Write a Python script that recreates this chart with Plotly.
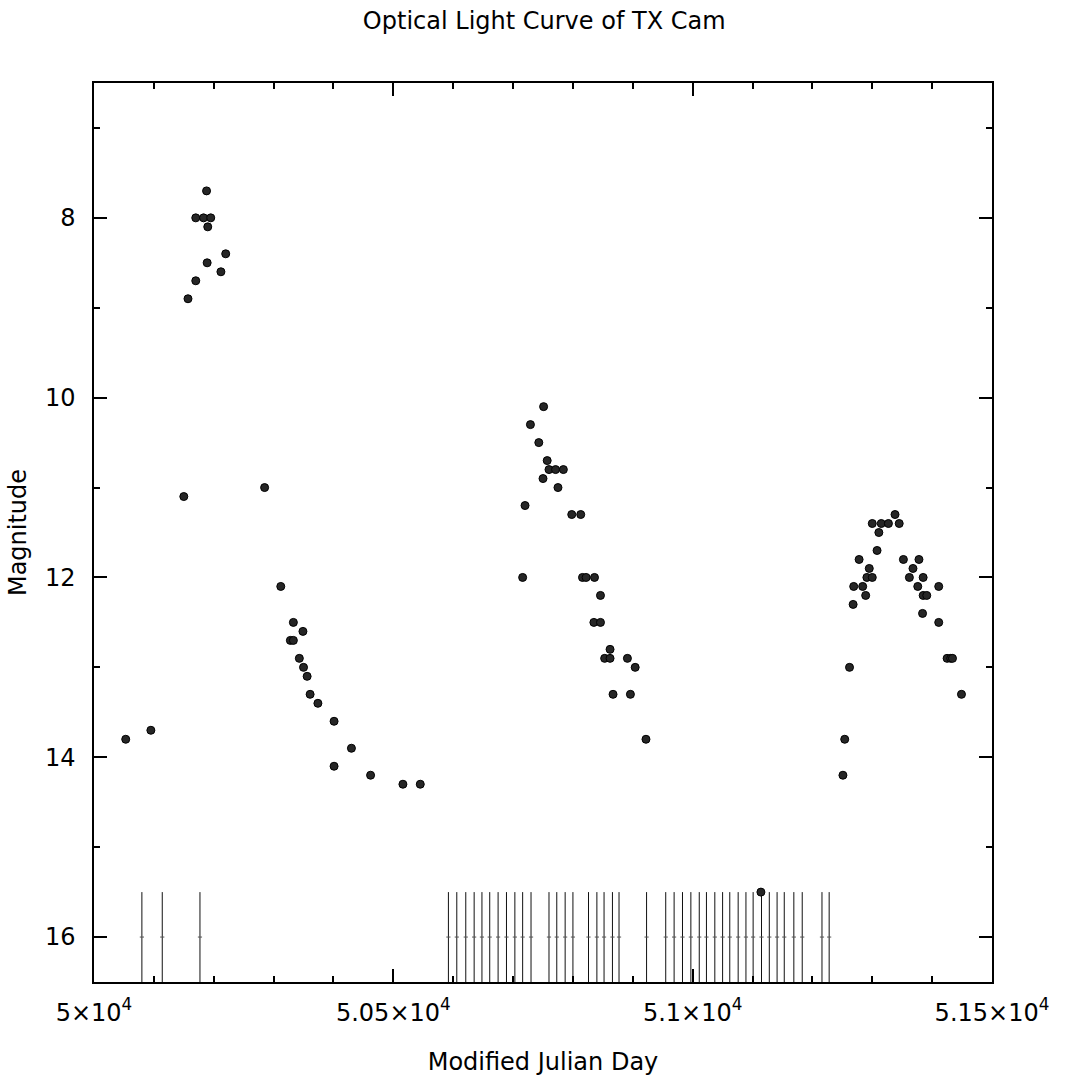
import plotly.graph_objects as go

# Optical photometry of TX Cam (MJD, visual magnitude)
mjd = [
    50053, 50095, 50150, 50157, 50170, 50170, 50183, 50188, 50189, 50190,
    50195, 50212, 50220, 50285, 50312, 50328, 50333, 50333, 50343, 50349,
    50350, 50356, 50361, 50374, 50401, 50401, 50430, 50462, 50516, 50545,
    50716, 50720, 50729, 50743, 50750, 50751, 50757, 50760, 50771, 50775,
    50784, 50798, 50813, 50816, 50822, 50835, 50836, 50846, 50846, 50853,
    50862, 50862, 50867, 50891, 50896, 50904, 50922,
    51114,
    51251, 51254, 51262, 51268, 51269, 51278, 51284, 51289, 51291, 51295,
    51300, 51300, 51308, 51311, 51315, 51327, 51338, 51345, 51352, 51362,
    51368, 51376, 51378, 51384, 51385, 51385, 51391, 51411, 51411, 51425,
    51431, 51434, 51449,
]
mag = [
    13.8, 13.7, 11.1, 8.9, 8.7, 8.0, 8.0, 7.7, 8.5, 8.1,
    8.0, 8.6, 8.4, 11.0, 12.1, 12.7, 12.7, 12.5, 12.9, 12.6,
    13.0, 13.1, 13.3, 13.4, 13.6, 14.1, 13.9, 14.2, 14.3, 14.3,
    12.0, 11.2, 10.3, 10.5, 10.9, 10.1, 10.7, 10.8, 10.8, 11.0,
    10.8, 11.3, 11.3, 12.0, 12.0, 12.5, 12.0, 12.5, 12.2, 12.9,
    12.9, 12.8, 13.3, 12.9, 13.3, 13.0, 13.8,
    15.5,
    14.2, 13.8, 13.0, 12.3, 12.1, 11.8, 12.1, 12.2, 12.0, 11.9,
    11.4, 12.0, 11.7, 11.5, 11.4, 11.4, 11.3, 11.4, 11.8, 12.0,
    11.9, 12.1, 11.8, 12.4, 12.0, 12.2, 12.2, 12.1, 12.5, 12.9,
    12.9, 12.9, 13.3,
]

# Epochs of the radio/X-ray observations, marked along the bottom
epochs = [
    50080, 50114, 50177, 50592, 50606, 50621, 50635, 50648, 50661, 50675,
    50689, 50703, 50716, 50730, 50760, 50773, 50787, 50800, 50826, 50840,
    50852, 50866, 50877, 50923, 50955, 50969, 50983, 50997, 51011, 51023,
    51037, 51050, 51062, 51076, 51089, 51101, 51115, 51128, 51141, 51153,
    51169, 51183, 51216, 51228,
]
epoch_top = 15.5
epoch_bottom = 16.5

x_tickvals = [50000, 50500, 51000, 51500]
x_ticktext = ["5×10<sup>4</sup>", "5.05×10<sup>4</sup>",
              "5.1×10<sup>4</sup>", "5.15×10<sup>4</sup>"]
y_tickvals = [8, 10, 12, 14, 16]

FONT = "DejaVu Sans"
LABEL_SIZE = 24

ex, ey = [], []
for e in epochs:
    ex += [e, e, None]
    ey += [epoch_top, epoch_bottom, None]

fig = go.Figure()
fig.add_trace(go.Scatter(
    x=ex, y=ey, mode="lines",
    line=dict(color="#111111", width=1),
    hoverinfo="skip", showlegend=False,
))
fig.add_trace(go.Scatter(
    x=epochs, y=[16] * len(epochs), mode="markers",
    marker=dict(symbol="line-ew", size=3,
                line=dict(color="#555555", width=1)),
    hoverinfo="skip", showlegend=False,
))
fig.add_trace(go.Scatter(
    x=mjd, y=mag, mode="markers",
    marker=dict(size=8, color="#262626",
                line=dict(color="#000000", width=1)),
    showlegend=False,
))

axis_common = dict(
    showgrid=False, zeroline=False,
    showline=True, linecolor="#000000", linewidth=1.5,
    mirror="ticks", ticks="inside", ticklen=13, tickwidth=1.5,
    tickcolor="#000000",
    tickfont=dict(family=FONT, size=24, color="#000000"),
)

fig.update_xaxes(
    range=[50000, 51500],
    tickmode="array", tickvals=x_tickvals, ticktext=x_ticktext,
    minor=dict(dtick=100, ticks="inside", ticklen=6, tickwidth=1.5,
               tickcolor="#000000", tick0=50000),
    ticklabelstandoff=8,
    title=dict(text="Modified Julian Day",
               font=dict(family=FONT, size=LABEL_SIZE, color="#000000"),
               standoff=28),
    **axis_common,
)
fig.update_yaxes(
    range=[16.5, 6.5],
    tickmode="array", tickvals=y_tickvals,
    minor=dict(dtick=1, ticks="inside", ticklen=6, tickwidth=1.5,
               tickcolor="#000000", tick0=7),
    ticklabelstandoff=12,
    title=dict(text="Magnitude",
               font=dict(family=FONT, size=LABEL_SIZE, color="#000000"),
               standoff=12),
    **axis_common,
)

fig.update_layout(
    width=1065, height=1085,
    margin=dict(l=94, r=73, t=83, b=103),
    paper_bgcolor="#ffffff", plot_bgcolor="#ffffff",
    title=dict(text="Optical Light Curve of TX Cam",
               font=dict(family=FONT, size=LABEL_SIZE, color="#000000"),
               x=0.511, xanchor="center", y=0.981, yanchor="middle"),
)

fig.write_html("out.html")
